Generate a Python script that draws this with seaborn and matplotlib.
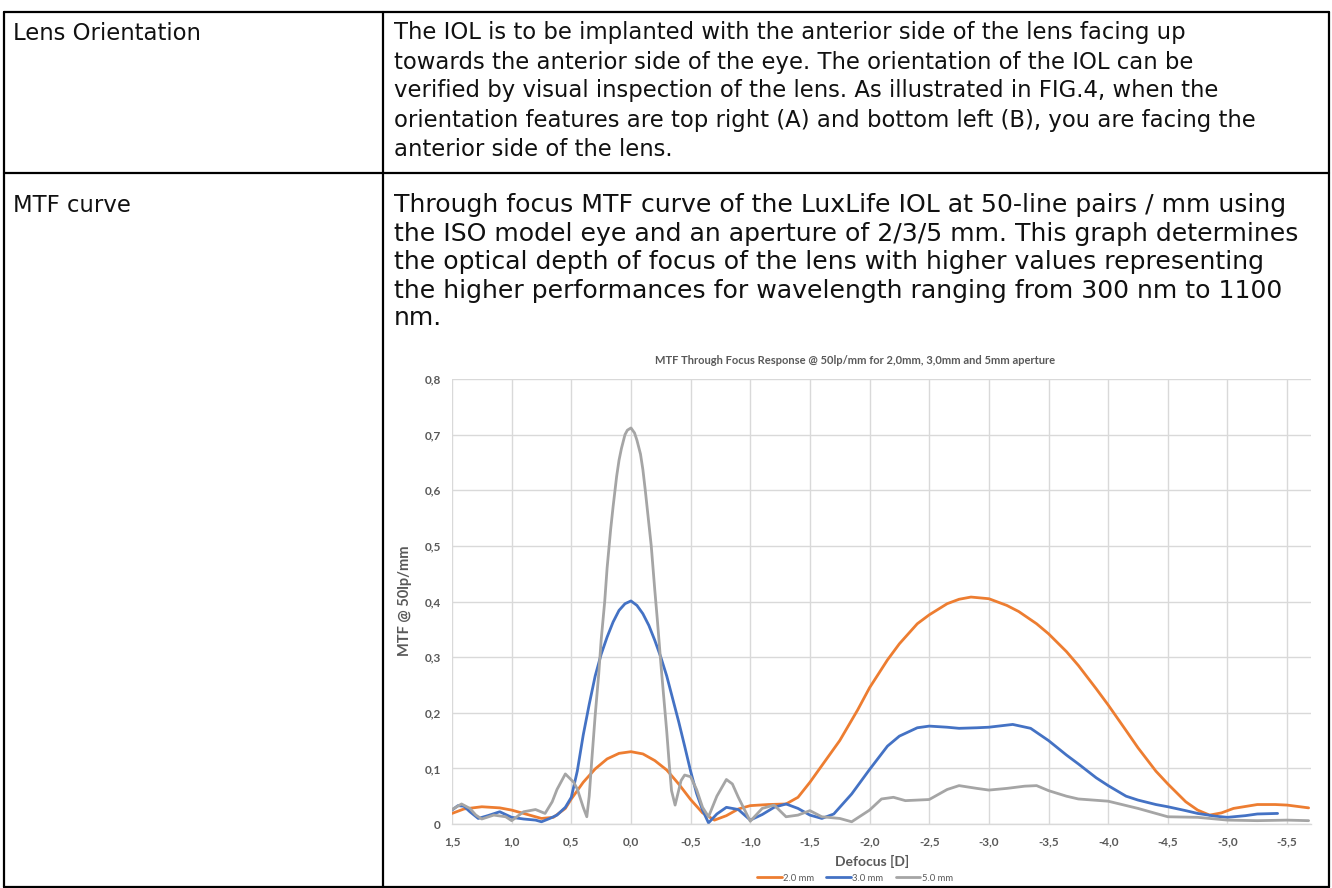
import numpy as np
import pandas as pd
import matplotlib
matplotlib.use("Agg")
import matplotlib.pyplot as plt
from matplotlib.lines import Line2D
import seaborn as sns

# ---------------- data ----------------
series_names = ["2.0 mm", "3.0 mm", "5.0 mm"]
series_colors = ["#ED7D31", "#4472C4", "#A5A5A5"]

orange_x = [1.5, 1.4, 1.25, 1.1, 1.0, 0.85, 0.75, 0.65, 0.55, 0.5, 0.4, 0.3, 0.2, 0.1, 0.0,
            -0.1, -0.2, -0.3, -0.4, -0.5, -0.6, -0.7, -0.8, -0.9, -1.0, -1.15, -1.3, -1.4,
            -1.5, -1.6, -1.75, -1.9, -2.0, -2.15, -2.25, -2.4, -2.5, -2.65, -2.75, -2.85,
            -3.0, -3.15, -3.25, -3.4, -3.5, -3.65, -3.75, -3.9, -4.0, -4.15, -4.25, -4.4,
            -4.5, -4.65, -4.75, -4.85, -4.95, -5.05, -5.25, -5.4, -5.5, -5.68]
orange_y = [0.019, 0.027, 0.031, 0.029, 0.025, 0.016, 0.010, 0.012, 0.028, 0.045, 0.075, 0.099,
            0.117, 0.127, 0.130, 0.126, 0.114, 0.097, 0.072, 0.044, 0.020, 0.007, 0.015, 0.027,
            0.033, 0.035, 0.036, 0.048, 0.075, 0.105, 0.150, 0.205, 0.245, 0.295, 0.324, 0.360,
            0.376, 0.396, 0.404, 0.408, 0.405, 0.393, 0.382, 0.360, 0.342, 0.310, 0.285, 0.243,
            0.214, 0.168, 0.137, 0.095, 0.072, 0.040, 0.025, 0.016, 0.020, 0.028, 0.035, 0.035,
            0.034, 0.029]

blue_x = [1.5, 1.45, 1.4, 1.35, 1.28, 1.2, 1.1, 1.0, 0.9, 0.8, 0.75, 0.68, 0.62, 0.55, 0.5,
          0.45, 0.4, 0.35, 0.3, 0.25, 0.2, 0.15, 0.1, 0.05, 0.0, -0.05, -0.1, -0.15, -0.2,
          -0.25, -0.3, -0.35, -0.4, -0.45, -0.5, -0.55, -0.6, -0.65, -0.72,
          -0.8, -0.9, -1.0, -1.1, -1.2, -1.3, -1.4, -1.5, -1.6, -1.7, -1.85, -2.0, -2.15,
          -2.25, -2.4, -2.5, -2.65, -2.75, -2.9, -3.0, -3.2, -3.35, -3.5, -3.65, -3.75, -3.9,
          -4.0, -4.15, -4.25, -4.4, -4.5, -4.65, -4.75, -4.9, -5.0, -5.15, -5.25, -5.42]
blue_y = [0.025, 0.033, 0.032, 0.022, 0.010, 0.015, 0.022, 0.012, 0.009, 0.007, 0.004, 0.010,
          0.016, 0.030, 0.048, 0.095, 0.160, 0.215, 0.266, 0.305, 0.336, 0.363, 0.384, 0.396,
          0.401, 0.393, 0.378, 0.357, 0.330, 0.300, 0.266, 0.225, 0.184, 0.140, 0.095, 0.055,
          0.025, 0.002, 0.018, 0.030, 0.026, 0.007, 0.017, 0.030, 0.036, 0.028,
          0.016, 0.010, 0.018, 0.054, 0.098, 0.140, 0.158, 0.173, 0.176, 0.174, 0.172, 0.173,
          0.174, 0.179, 0.172, 0.150, 0.124, 0.108, 0.083, 0.069, 0.050, 0.043, 0.035, 0.031,
          0.024, 0.019, 0.014, 0.012, 0.015, 0.018, 0.019]

gray_x = [1.5, 1.42, 1.35, 1.3, 1.25, 1.15, 1.05, 1.0, 0.9, 0.8, 0.72, 0.66, 0.62, 0.55, 0.48,
          0.45, 0.4, 0.37, 0.35, 0.33, 0.3, 0.27, 0.25, 0.22, 0.2, 0.17, 0.15, 0.12, 0.1, 0.08,
          0.05, 0.03, 0.0, -0.03, -0.05, -0.08, -0.1, -0.12, -0.15, -0.17, -0.2, -0.22,
          -0.25, -0.27, -0.3, -0.32, -0.34, -0.37, -0.42, -0.45, -0.5, -0.55, -0.6, -0.65,
          -0.72, -0.8, -0.85, -0.9, -1.0, -1.1, -1.2, -1.3, -1.4, -1.5, -1.6, -1.75, -1.85,
          -2.0, -2.1, -2.2, -2.3, -2.5, -2.65, -2.75, -2.9, -3.0, -3.15, -3.3, -3.4, -3.5,
          -3.65, -3.75, -4.0, -4.25, -4.5, -4.75, -5.0, -5.25, -5.5, -5.68]
gray_y = [0.026, 0.036, 0.028, 0.016, 0.009, 0.016, 0.013, 0.006, 0.022, 0.026, 0.019, 0.040,
          0.062, 0.090, 0.075, 0.063, 0.030, 0.013, 0.050, 0.110, 0.195, 0.270, 0.330, 0.400,
          0.460, 0.530, 0.570, 0.625, 0.654, 0.675, 0.700, 0.708, 0.712, 0.703, 0.690, 0.665,
          0.637, 0.600, 0.540, 0.500, 0.420, 0.370, 0.290, 0.240, 0.166, 0.110, 0.060, 0.034,
          0.078, 0.088, 0.085, 0.062, 0.030, 0.013, 0.050, 0.080, 0.072, 0.048, 0.005, 0.028,
          0.034, 0.013, 0.016, 0.024, 0.013, 0.010, 0.004, 0.025, 0.045, 0.048, 0.042, 0.044,
          0.062, 0.069, 0.064, 0.061, 0.064, 0.068, 0.069, 0.060, 0.050, 0.045, 0.041, 0.028,
          0.013, 0.012, 0.007, 0.006, 0.007, 0.006]

x_ticks = [1.5, 1.0, 0.5, 0.0, -0.5, -1.0, -1.5, -2.0, -2.5, -3.0, -3.5, -4.0, -4.5, -5.0, -5.5]
x_tick_labels = ["1,5", "1,0", "0,5", "0,0", "-0,5", "-1,0", "-1,5", "-2,0", "-2,5", "-3,0",
                 "-3,5", "-4,0", "-4,5", "-5,0", "-5,5"]
y_ticks = [0.0, 0.1, 0.2, 0.3, 0.4, 0.5, 0.6, 0.7, 0.8]
y_tick_labels = ["0", "0,1", "0,2", "0,3", "0,4", "0,5", "0,6", "0,7", "0,8"]

chart_title = "MTF Through Focus Response @ 50lp/mm for 2,0mm, 3,0mm and 5mm aperture"
x_label = "Defocus [D]"
y_label = "MTF @ 50lp/mm"

row_labels = ["Lens Orientation", "MTF curve"]
row1_lines = [
    "The IOL is to be implanted with the anterior side of the lens facing up",
    "towards the anterior side of the eye. The orientation of the IOL can be",
    "verified by visual inspection of the lens. As illustrated in FIG.4, when the",
    "orientation features are top right (A) and bottom left (B), you are facing the",
    "anterior side of the lens.",
]
row2_lines = [
    "Through focus MTF curve of the LuxLife IOL at 50-line pairs / mm using",
    "the ISO model eye and an aperture of 2/3/5 mm. This graph determines",
    "the optical depth of focus of the lens with higher values representing",
    "the higher performances for wavelength ranging from 300 nm to 1100",
    "nm.",
]

# ---------------- figure ----------------
W, H = 1332, 888
sns.set_theme(style="white")
plt.rcParams["font.family"] = ["Lato", "DejaVu Sans"]
fig = plt.figure(figsize=(W / 100, H / 100), dpi=100)
fig.patch.set_facecolor("white")


def fx(px):
    return px / W


def fy(py):
    return 1 - py / H


def hline(y, x0, x1, lw=1.6):
    fig.add_artist(Line2D([fx(x0), fx(x1)], [fy(y), fy(y)], color="black", lw=lw,
                          transform=fig.transFigure))


def vline(x, y0, y1, lw=1.6):
    fig.add_artist(Line2D([fx(x), fx(x)], [fy(y0), fy(y1)], color="black", lw=lw,
                          transform=fig.transFigure))


TOP, MID, BOT = 12, 173, 887
LEFT, COL, RIGHT = 4, 383, 1329
hline(TOP, LEFT, RIGHT)
hline(MID, LEFT, RIGHT)
hline(BOT, LEFT, RIGHT)
vline(LEFT, TOP, BOT)
vline(COL, TOP, BOT)
vline(RIGHT, TOP, BOT)

renderer = fig.canvas.get_renderer()


def fitted_size(lines, target_total, family, base=12):
    total = 0.0
    for s in lines:
        t = fig.text(0, 0, s, fontsize=base, family=family)
        total += t.get_window_extent(renderer).width
        t.remove()
    return base * target_total / total


text_font = ["DejaVu Sans"]
TX = 394
fs1 = fitted_size(row1_lines[:4], (1127 - TX) + (1179 - TX) + (1226 - TX) + (1320 - TX), text_font)
fs2 = fitted_size(row2_lines[:4], (1230 - TX) + (1325 - TX) + (1238 - TX) + (1320 - TX), text_font)

row1_y = [33, 62, 91, 120, 149]
row2_y = [205, 234, 262, 291, 318]
for s, y in zip(row1_lines, row1_y):
    fig.text(fx(TX), fy(y), s, fontsize=fs1, family=text_font, va="center", color="#111111")
for s, y in zip(row2_lines, row2_y):
    fig.text(fx(TX), fy(y), s, fontsize=fs2, family=text_font, va="center", color="#111111")
fig.text(fx(13), fy(row1_y[0]), row_labels[0], fontsize=fs1, family=text_font, va="center",
         color="#111111")
fig.text(fx(13), fy(row2_y[0]), row_labels[1], fontsize=fs1, family=text_font, va="center",
         color="#111111")

# ---------------- chart ----------------
df = pd.concat([
    pd.DataFrame({"x": orange_x, "y": orange_y, "series": series_names[0]}),
    pd.DataFrame({"x": blue_x, "y": blue_y, "series": series_names[1]}),
    pd.DataFrame({"x": gray_x, "y": gray_y, "series": series_names[2]}),
], ignore_index=True)

ax_l, ax_r, ax_t, ax_b = 452, 1311, 379, 824
ax = fig.add_axes([fx(ax_l), fy(ax_b), fx(ax_r - ax_l), (ax_b - ax_t) / H])
sns.lineplot(data=df, x="x", y="y", hue="series", palette=series_colors, hue_order=series_names,
             estimator=None, sort=False, lw=2.0, ax=ax)
for ln in ax.get_lines():
    ln.set_solid_joinstyle("round")
    ln.set_solid_capstyle("round")
ax.set_xlim(1.5, -5.7)
ax.set_ylim(0, 0.8)
ax.set_xticks(x_ticks)
ax.set_xticklabels(x_tick_labels)
ax.set_yticks(y_ticks)
ax.set_yticklabels(y_tick_labels)
ax.grid(True, color="#D9D9D9", lw=1.0)
ax.set_axisbelow(True)
for side in ["top", "right", "left"]:
    ax.spines[side].set_visible(False)
ax.spines["bottom"].set_color("#D9D9D9")
ax.spines["bottom"].set_linewidth(1.0)
ax.tick_params(axis="x", length=0, labelsize=8.5, labelcolor="#595959", pad=9)
ax.tick_params(axis="y", length=0, labelsize=8.5, labelcolor="#595959", pad=8)
for lab in ax.get_xticklabels() + ax.get_yticklabels():
    lab.set_fontweight("bold")
ax.set_xlabel("")
ax.set_ylabel("")

fig.text(fx(872), fy(861), x_label, fontsize=10, fontweight="bold", color="#595959",
         ha="center", va="center")
fig.text(fx(405), fy(601), y_label, fontsize=10.5, fontweight="bold", color="#595959",
         ha="center", va="center", rotation=90)
fig.text(fx(855), fy(360), chart_title, fontsize=8, fontweight="bold", color="#595959",
         ha="center", va="center")

leg = ax.legend(loc="center",
                bbox_to_anchor=((855 - ax_l) / (ax_r - ax_l), (ax_b - 878) / (ax_b - ax_t)),
                ncol=3, frameon=False, fontsize=6.8, handlelength=2.6, columnspacing=1.3,
                handletextpad=0.15)
for t in leg.get_texts():
    t.set_color("#595959")
for h in leg.get_lines():
    h.set_linewidth(2.0)

fig.savefig("out.png", dpi=100, facecolor="white")
